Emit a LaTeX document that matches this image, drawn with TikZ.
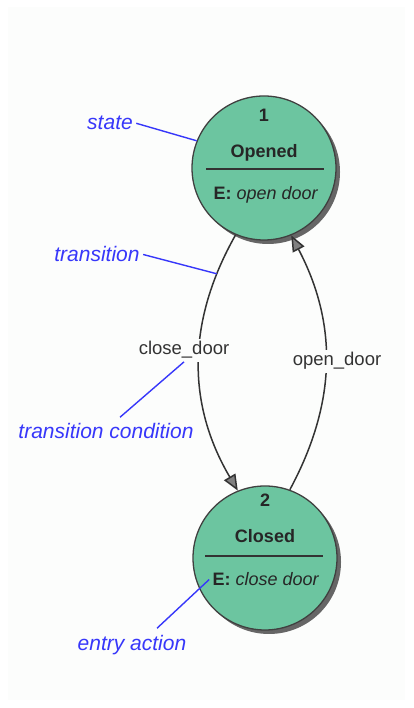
\documentclass[tikz,border=0pt]{standalone}
\usepackage{fontspec}
\setmainfont{Liberation Sans}
\usetikzlibrary{arrows.meta,shadows}
\definecolor{stategreen}{RGB}{108,197,160}
\definecolor{noteblue}{RGB}{55,55,250}
\definecolor{pagebg}{RGB}{252,253,252}
\begin{document}
\begin{tikzpicture}[x=1pt,y=1pt,
    state/.style={circle, draw=black!75, line width=1.3pt, fill=stategreen,
        minimum size=144pt, inner sep=0pt,
        drop shadow={shadow xshift=4pt, shadow yshift=-4pt, fill=black!60, opacity=1}},
    big/.style={font=\fontsize{18}{20}\selectfont\bfseries, text=black!85, anchor=base},
    entry/.style={font=\fontsize{18}{20}\selectfont, text=black!85, anchor=base},
    cond/.style={font=\fontsize{18.5}{20}\selectfont, text=black!80, fill=pagebg,
        inner sep=3pt, anchor=base},
    note/.style={font=\fontsize{21}{24}\selectfont\itshape, text=noteblue, anchor=base},
    trans/.style={draw=black!80, line width=1.5pt,
        -{Triangle[length=16pt,width=13pt,fill=black!50]}},
    link/.style={draw=noteblue, line width=1.4pt}]
    \useasboundingbox (0,0) rectangle (413,708);
    \fill[pagebg] (8,8) rectangle (405,701);
    % states
    \node[state] (opened) at (264,540) {};
    \node[big] (onum) at (264,586) {1};
    \node[big] (oname) at (264,550) {Opened};
    \draw[black!80, line width=1.3pt] (206,539) -- (324,539);
    \node[entry] (oentry) at (266,508) {\textbf{E:} \textit{open door}};
    \node[state] (closed) at (265,150) {};
    \node[big] (cnum) at (265,201) {2};
    \node[big] (cname) at (265,165) {Closed};
    \draw[black!80, line width=1.3pt] (205,152) -- (323,152);
    \node[entry] (centry) at (266,122) {\textbf{E:} \textit{close door}};
    % transitions
    \draw[trans] (opened.247) to[bend right=30] coordinate[pos=0.15] (tpt) (closed.112);
    \draw[trans] (closed.70) to[bend right=28] (opened.292);
    \node[cond] (cdlabel) at (184,353) {close\_door};
    \node[cond] (odlabel) at (337,342) {open\_door};
    % notes
    \node[note] (statenote) at (110,578) {state};
    \draw[link] (statenote.east) -- (opened.158);
    \node[note] (transnote) at (97,446) {transition};
    \draw[link] (transnote.east) -- (tpt);
    \node[note] (tcond) at (106,269) {transition condition};
    \draw[link] ([xshift=14pt,yshift=3pt]tcond.north) -- (cdlabel.south);
    \node[note] (eaction) at (132,57) {entry action};
    \draw[link] ([xshift=25pt,yshift=4pt]eaction.north) -- (centry.west);
\end{tikzpicture}
\end{document}
